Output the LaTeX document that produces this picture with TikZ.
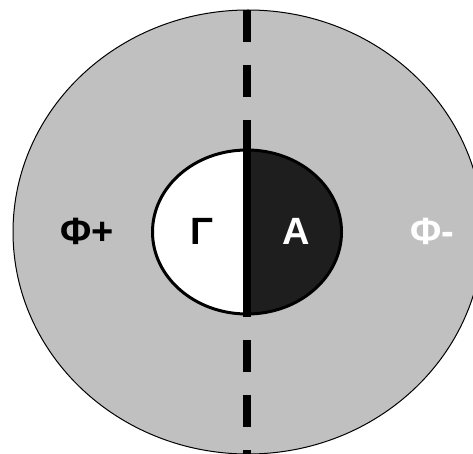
\documentclass[tikz,border=0pt]{standalone}
\usepackage{fontspec}
\setmainfont{Liberation Sans}
\definecolor{bggray}{HTML}{C0C0C0}
\definecolor{darkhalf}{HTML}{1E1E1E}
\begin{document}
\begin{tikzpicture}[x=1pt,y=-1pt,
  lbl/.style={font=\bfseries\fontsize{38}{38}\selectfont, inner sep=0pt, anchor=base},
  divider/.style={line width=8pt}]
\useasboundingbox (0,0) rectangle (473,454);
\fill[white] (0,0) rectangle (473,454);
\begin{scope}
\clip (0,0) rectangle (473,454);
\draw[fill=bggray, line width=1pt] (248,232) ellipse [x radius=235, y radius=222];
\begin{scope}
\clip (247,232) ellipse [x radius=94.5, y radius=82];
\fill[white] (150,140) rectangle (247,330);
\fill[darkhalf] (247,140) rectangle (345,330);
\end{scope}
\draw[line width=3pt] (247,232) ellipse [x radius=94.5, y radius=82];
\coordinate (top) at (247,10);
\coordinate (bot) at (247,470);
\coordinate (itop) at (247,150);
\coordinate (ibot) at (247,314);
\draw[divider, dash pattern=on 32pt off 23pt] (top) -- (bot);
\draw[divider] (itop) -- (ibot);
\end{scope}
\node[lbl] (phiplus) at (87,244) {Φ+};
\node[lbl, text=white] (phiminus) at (432,244) {Φ-};
\node[lbl] (gamma) at (201.5,244) {Γ};
\node[lbl, text=white] (alpha) at (296.5,244) {A};
\end{tikzpicture}
\end{document}
